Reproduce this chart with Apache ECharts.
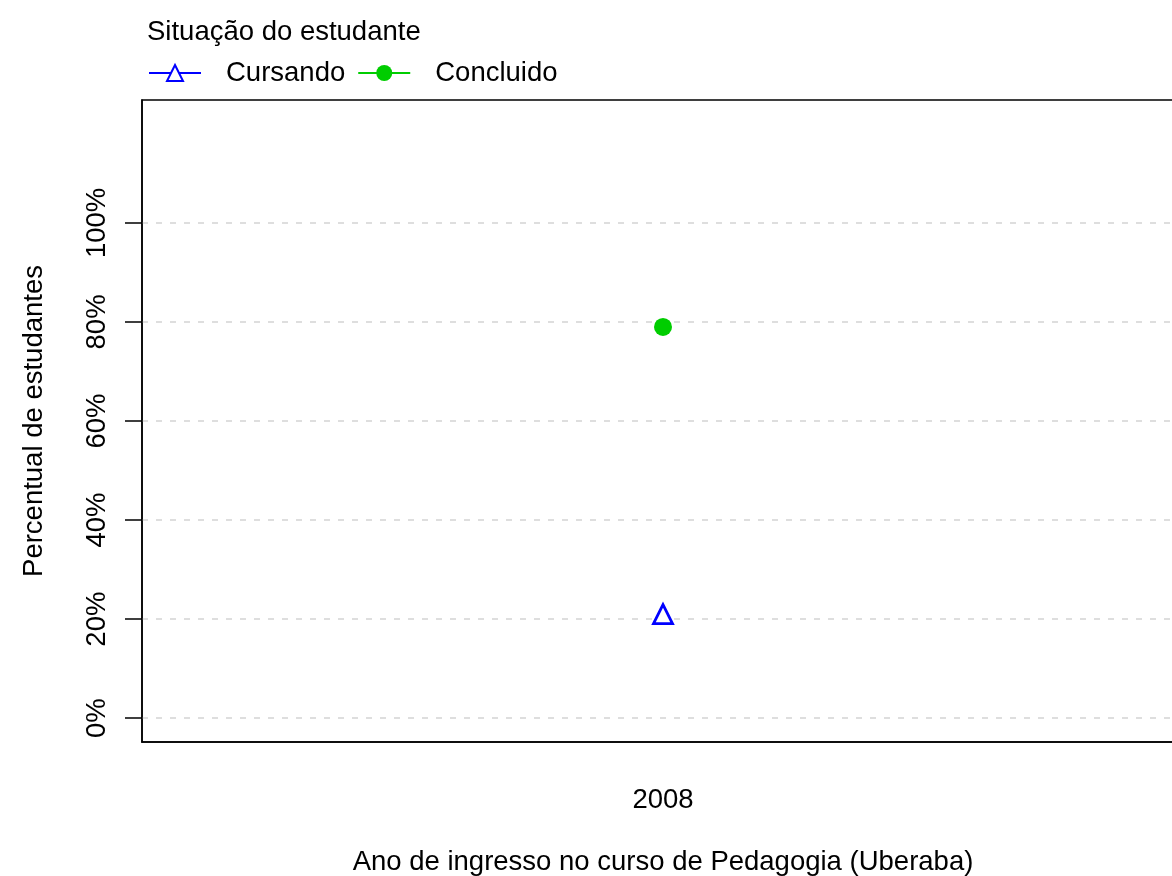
<!DOCTYPE html>
<html>
<head>
<meta charset="utf-8">
<script src="https://cdn.jsdelivr.net/npm/echarts@6/dist/echarts.min.js"></script>
<style>
  html,body{margin:0;padding:0;background:#fff;}
  #main{width:1172px;height:876px;}
</style>
</head>
<body>
<div id="main"></div>
<script>
// dados
const anos = ['2008'];
const cursando = [21];
const concluido = [79];
const ticksY = [0, 20, 40, 60, 80, 100];

const fonte = 'Liberation Sans, Arial, Helvetica, sans-serif';
const chart = echarts.init(document.getElementById('main'));

let option = {
  backgroundColor: '#fff',
  animation: false,
  textStyle: { fontFamily: fonte },
  title: {
    text: 'Situação do estudante',
    left: 142, top: 13,
    textStyle: { fontSize: 27.5, fontWeight: 'normal', color: '#000', fontFamily: fonte }
  },
  legend: {
    left: 143, top: 54,
    itemWidth: 52, itemHeight: 20, itemGap: 12,
    textStyle: { fontSize: 27.5, color: '#000', padding: [0, 0, 0, 20], fontFamily: fonte },
    data: ['Cursando', 'Concluido']
  },
  grid: {
    left: 142, right: -12, top: 100, bottom: 134,
    outerBoundsMode: 'none', containLabel: false,
    show: true, borderColor: '#000', borderWidth: 1.5, backgroundColor: '#fff'
  },
  xAxis: {
    type: 'category',
    data: anos,
    name: 'Ano de ingresso no curso de Pedagogia (Uberaba)',
    nameLocation: 'middle', nameGap: 106,
    nameTextStyle: { fontSize: 27.5, color: '#000', fontFamily: fonte },
    axisLine: { onZero: false, lineStyle: { color: '#000', width: 1.5 } },
    axisTick: { alignWithLabel: true, length: 17, lineStyle: { color: '#000', width: 1.5 } },
    axisLabel: { fontSize: 27.5, color: '#000', margin: 44, fontFamily: fonte }
  },
  yAxis: {
    type: 'value',
    min: -4.8, max: 124.8,
    name: 'Percentual de estudantes',
    nameLocation: 'middle', nameGap: 94,
    nameTextStyle: { fontSize: 27.5, color: '#000', fontFamily: fonte },
    axisLine: { show: true, onZero: false, lineStyle: { color: '#000', width: 1.5 } },
    axisTick: { show: true, length: 17, customValues: ticksY, lineStyle: { color: '#000', width: 1.5 } },
    axisLabel: {
      customValues: ticksY, rotate: 90, fontSize: 27.5, color: '#000', margin: 31, fontFamily: fonte,
      formatter: v => v + '%'
    },
    splitLine: { show: true, customValues: ticksY, lineStyle: { color: '#d3d3d3', type: [6, 8], width: 1.5 } }
  },
  series: [
    {
      name: 'Cursando', type: 'line', data: cursando,
      symbol: 'triangle', symbolSize: 19,
      color: '#0000ff',
      lineStyle: { color: '#0000ff', width: 1.5 },
      itemStyle: { color: '#fff', borderColor: '#0000ff', borderWidth: 2.8 }
    },
    {
      name: 'Concluido', type: 'line', data: concluido,
      symbol: 'circle', symbolSize: 18,
      color: '#00cd00',
      lineStyle: { color: '#00cd00', width: 1.5 },
      itemStyle: { color: '#00cd00' }
    }
  ]
};

chart.setOption(option, true);
window.addEventListener('resize', function () {
  chart.resize();
});
</script>
</body>
</html>
